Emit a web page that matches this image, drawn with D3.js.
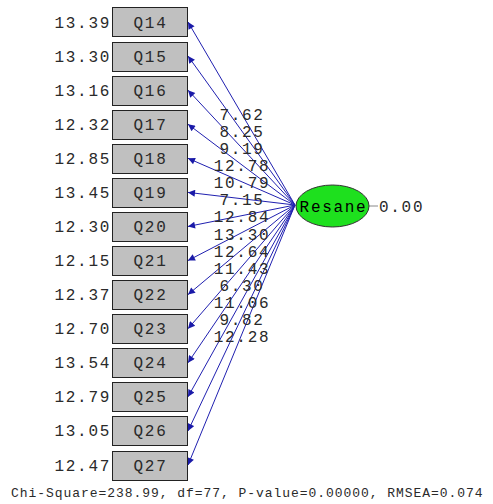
<!DOCTYPE html>
<meta charset="utf-8">
<style>
body { margin: 0; background: #fff; }
text { font-family: "Liberation Mono", "DejaVu Sans Mono", monospace; fill: #2a2a2a; }
.big { font-size: 16px; letter-spacing: 1.7px; }
.small { font-size: 13px; letter-spacing: 0.95px; }
.box { fill: #c0c0c0; stroke: #222; stroke-width: 1; }
.path { stroke: #2020b0; stroke-width: 1; fill: none; }
</style>
<svg width="493" height="504"></svg>
<script src="https://d3js.org/d3.v7.min.js"></script>
<script>
var items = ["Q14","Q15","Q16","Q17","Q18","Q19","Q20","Q21","Q22","Q23","Q24","Q25","Q26","Q27"];
var errors = [13.39,13.30,13.16,12.32,12.85,13.45,12.30,12.15,12.37,12.70,13.54,12.79,13.05,12.47];
var loadings = ["7.62","8.25","9.19","12.78","10.79","7.15","12.84","13.30","12.64","11.43","6.30","11.06","9.82","12.28"];
var latent = "Resane", latentVar = "0.00";
var fitText = "Chi-Square=238.99, df=77, P-value=0.00000, RMSEA=0.074";

var svg = d3.select("svg");
var y = d3.scalePoint().domain(items).range([22, 465]);
var yLab = d3.scalePoint().domain(items).range([114, 336]);

var boxX = 112, boxW = 75, boxH = 29;
var ex = 332.5, ey = 206, rx = 36.5, ry = 21;
var ox = 295, oy = 205;

svg.append("defs").append("marker")
  .attr("id", "arr").attr("viewBox", "0 0 10 10")
  .attr("refX", 10).attr("refY", 5)
  .attr("markerWidth", 10).attr("markerHeight", 7)
  .attr("markerUnits", "userSpaceOnUse")
  .attr("orient", "auto")
  .append("path").attr("d", "M0,0L10,5L0,10z").attr("fill", "#1a1aa8");

// paths from latent to indicators
svg.selectAll(".path").data(items).enter().append("line")
  .attr("class", "path")
  .attr("x1", ox).attr("y1", oy)
  .attr("x2", boxX + boxW + 1).attr("y2", function(d) { return y(d); })
  .attr("marker-end", "url(#arr)");

// boxes
svg.selectAll(".box").data(items).enter().append("rect")
  .attr("class", "box")
  .attr("x", boxX + 0.5).attr("y", function(d) { return Math.round(y(d) - boxH / 2) + 0.5; })
  .attr("width", boxW).attr("height", boxH);

svg.selectAll(".lbl").data(items).enter().append("text")
  .attr("class", "big")
  .attr("x", boxX + boxW / 2 + 1).attr("y", function(d) { return y(d) + 5.5; })
  .attr("text-anchor", "middle")
  .text(function(d) { return d; });

// error variances
svg.selectAll(".err").data(errors).enter().append("text")
  .attr("class", "big")
  .attr("x", 111).attr("y", function(d, i) { return y(items[i]) + 5.5; })
  .attr("text-anchor", "end")
  .text(function(d) { return d.toFixed(2); });

// loading labels
svg.selectAll(".load").data(loadings).enter().append("text")
  .attr("class", "big")
  .attr("x", 242).attr("y", function(d, i) { return yLab(items[i]) + 6; })
  .attr("text-anchor", "middle")
  .text(function(d) { return d; });

// latent
svg.append("line").attr("x1", ex + rx).attr("x2", ex + rx + 9)
  .attr("y1", ey).attr("y2", ey).attr("stroke", "#888");
svg.append("ellipse").attr("cx", ex).attr("cy", ey).attr("rx", rx).attr("ry", ry)
  .attr("fill", "#1ee01e").attr("stroke", "#333");
svg.append("text").attr("class", "big").style("fill", "#000")
  .attr("x", ex + 1).attr("y", ey + 5.5).attr("text-anchor", "middle").text(latent);
svg.append("text").attr("class", "big")
  .attr("x", ex + rx + 10).attr("y", ey + 5.5).text(latentVar);

svg.append("text").attr("class", "small")
  .attr("x", 11).attr("y", 497).text(fitText);
</script>
